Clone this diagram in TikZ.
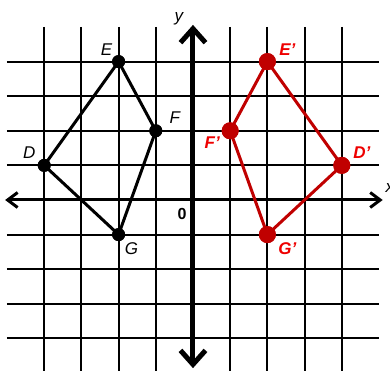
\documentclass[tikz,border=0pt]{standalone}
\usepackage{fontspec}
\setmainfont{Liberation Sans}
\usetikzlibrary{arrows.meta}
\definecolor{dred}{RGB}{192,0,0}
\definecolor{tred}{RGB}{238,0,0}
\tikzset{
  gridline/.style={line width=2pt,black},
  yaxis/.style={line width=5pt,black,{Straight Barb[length=14pt,width=25pt]}-{Straight Barb[length=14pt,width=25pt]}},
  xaxis/.style={line width=3pt,black,{Straight Barb[length=10pt,width=15pt]}-{Straight Barb[length=10pt,width=15pt]}},
  bshape/.style={line width=3pt,black,line join=round},
  rshape/.style={line width=3pt,dred,line join=round},
  bdot/.style={circle,fill=black,inner sep=0pt,minimum size=13pt},
  rdot/.style={circle,fill=dred,inner sep=0pt,minimum size=17pt},
  blbl/.style={font=\fontsize{17}{17}\selectfont\itshape,black,inner sep=0pt},
  rlbl/.style={font=\fontsize{17}{17}\selectfont\bfseries\itshape,tred,inner sep=0pt},
}
\begin{document}
\begin{tikzpicture}[x=37.2pt,y=34.6pt]
\useasboundingbox (-5.188,-4.942) rectangle (5.296,5.780);
\clip (-5.188,-4.942) rectangle (5.296,5.780);
\foreach \i in {-4,-3,-2,-1,1,2,3,4} {
  \draw[gridline] (\i,5.0) -- (\i,-5.2);
  \draw[gridline] (-5,\i) -- (5,\i);
}
\coordinate (O) at (0,0);
\coordinate (xl) at (-5.05,0);
\coordinate (xr) at (5.1,0);
\coordinate (yt) at (0,5.06);
\coordinate (yb) at (0,-4.86);
\draw[xaxis] (xl) -- (xr);
\draw[yaxis] (yb) -- (yt);
% original figure
\node[bdot] (D) at (-4,1) {};
\node[bdot] (E) at (-2,4) {};
\node[bdot] (F) at (-1,2) {};
\node[bdot] (G) at (-2,-1) {};
\draw[bshape] (D.center) -- (E.center) -- (F.center) -- (G.center) -- cycle;
% image
\node[rdot] (D') at (4,1) {};
\node[rdot] (E') at (2,4) {};
\node[rdot] (F') at (1,2) {};
\node[rdot] (G') at (2,-1) {};
\draw[rshape] (D'.center) -- (E'.center) -- (F'.center) -- (G'.center) -- cycle;
\node[bdot] at (D) {};
\node[bdot] at (E) {};
\node[bdot] at (F) {};
\node[bdot] at (G) {};
\node[rdot] at (D') {};
\node[rdot] at (E') {};
\node[rdot] at (F') {};
\node[rdot] at (G') {};
% labels
\node[blbl] (lE) at ([shift={(-12pt,12pt)}]E) {E};
\node[blbl] (lF) at ([shift={(19pt,13pt)}]F) {F};
\node[blbl] (lD) at ([shift={(-15pt,13pt)}]D) {D};
\node[blbl] (lG) at ([shift={(13pt,-14pt)}]G) {G};
\node[rlbl] (lE') at ([shift={(20pt,12pt)}]E') {E'};
\node[rlbl] (lF') at ([shift={(-18pt,-12pt)}]F') {F'};
\node[rlbl] (lD') at ([shift={(20pt,13pt)}]D') {D'};
\node[rlbl] (lG') at ([shift={(20pt,-14pt)}]G') {G'};
\node[font=\fontsize{16}{16}\selectfont\bfseries,inner sep=0pt] (l0) at ([shift={(-11pt,-14pt)}]O) {0};
\node[blbl] (ly) at ([shift={(-14pt,181pt)}]O) {y};
\node[blbl] (lx) at ([shift={(197pt,12pt)}]O) {x};
\end{tikzpicture}
\end{document}
